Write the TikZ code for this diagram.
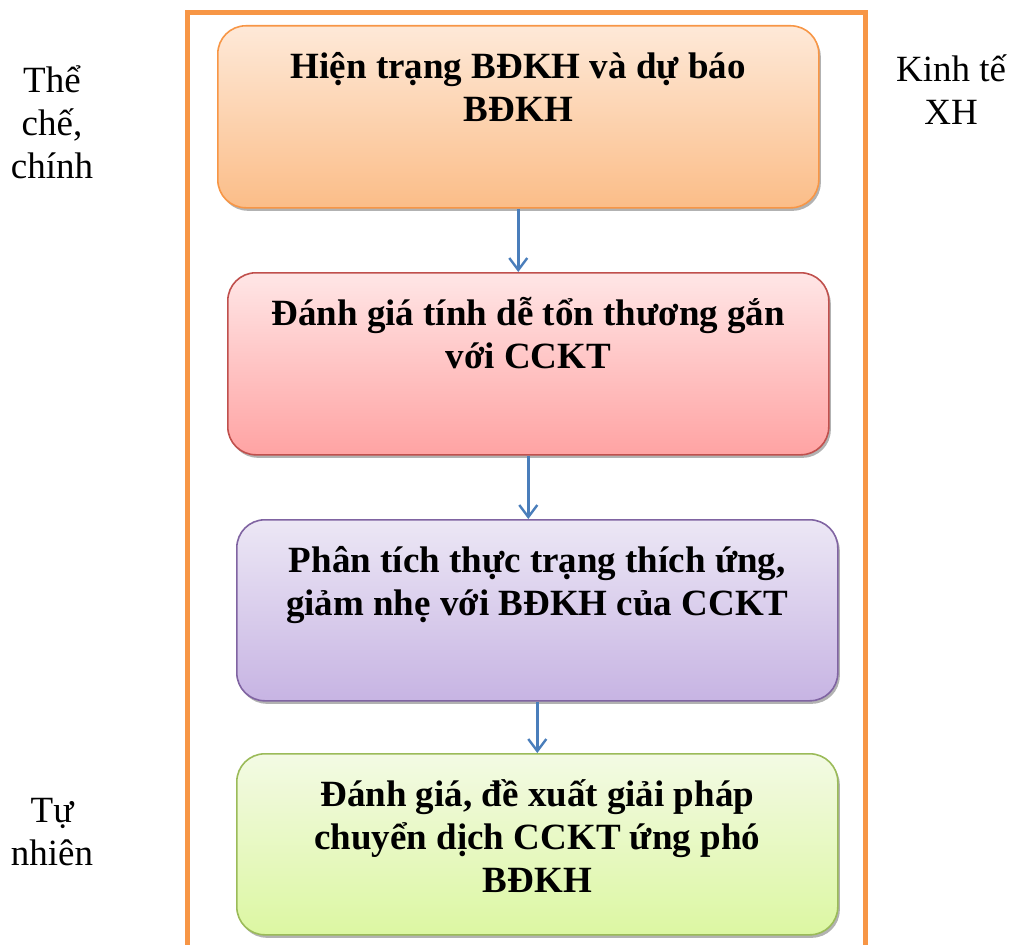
\documentclass[tikz,border=0pt]{standalone}
\usepackage{fontspec}
\setmainfont{Liberation Serif}
\usetikzlibrary{arrows.meta,shadows}
\definecolor{frameor}{HTML}{F79646}
\definecolor{oratop}{HTML}{FEE9D8}
\definecolor{orabot}{HTML}{FBBD88}
\definecolor{redtop}{HTML}{FFE6E6}
\definecolor{redbot}{HTML}{FFA3A3}
\definecolor{redline}{HTML}{C0504D}
\definecolor{purtop}{HTML}{ECE7F5}
\definecolor{purbot}{HTML}{C7B4E3}
\definecolor{purline}{HTML}{8064A2}
\definecolor{gretop}{HTML}{F3FAE4}
\definecolor{grebot}{HTML}{DCF7A2}
\definecolor{greline}{HTML}{9BBB59}
\definecolor{arrowblue}{HTML}{4A7EBB}
\newcommand{\bxt}[2]{\parbox[c][#1][t]{601pt}{\centering\rule{0pt}{53pt}#2}}
\begin{document}
\begin{tikzpicture}[x=1pt,y=-1pt,
  stagebox/.style={draw, line width=1.6pt, rounded corners=28pt, inner sep=0pt,
    anchor=north west,
    drop shadow={shadow xshift=2pt, shadow yshift=-3pt, opacity=0.5, fill=black!60},
    font=\bfseries\fontsize{37}{43}\selectfont},
  sidelabel/.style={inner sep=0pt, anchor=base, font=\fontsize{37}{43}\selectfont},
  arr/.style={draw=arrowblue, line width=2.4pt, -{Straight Barb[length=12pt,width=18pt]}}]
\useasboundingbox (0,0) rectangle (1016,944);
% frame
\draw[frameor, line width=5pt] (187.5,946) -- (187.5,12.5) -- (865,12.5) -- (865,946);
% boxes
\node[stagebox, draw=frameor, top color=oratop, bottom color=orabot] (b1) at (217,25)
  {\bxt{182pt}{Hiện trạng BĐKH và dự báo\\BĐKH}};
\node[stagebox, draw=redline, top color=redtop, bottom color=redbot] (b2) at (227,272)
  {\bxt{182pt}{Đánh giá tính dễ tổn thương gắn\\với CCKT}};
\node[stagebox, draw=purline, top color=purtop, bottom color=purbot] (b3) at (236,519)
  {\bxt{181pt}{Phân tích thực trạng thích ứng,\\giảm nhẹ với BĐKH của CCKT}};
\node[stagebox, draw=greline, top color=gretop, bottom color=grebot] (b4) at (236,753)
  {\bxt{181pt}{Đánh giá, đề xuất giải pháp\\chuyển dịch CCKT ứng phó\\BĐKH}};
% arrows
\draw[arr] (b1.south) -- (b1.south |- b2.north);
\draw[arr] (b2.south) -- (b2.south |- b3.north);
\draw[arr] (b3.south) -- (b3.south |- b4.north);
% side labels
\node[sidelabel] (l1) at (52,93) {\parbox[t]{140pt}{\centering Thể\\chế,\\chính}};
\node[sidelabel] (l2) at (951,82) {\parbox[t]{140pt}{\centering Kinh tế\\XH}};
\node[sidelabel] (l3) at (52,822) {\parbox[t]{140pt}{\centering Tự\\nhiên}};
\end{tikzpicture}
\end{document}
